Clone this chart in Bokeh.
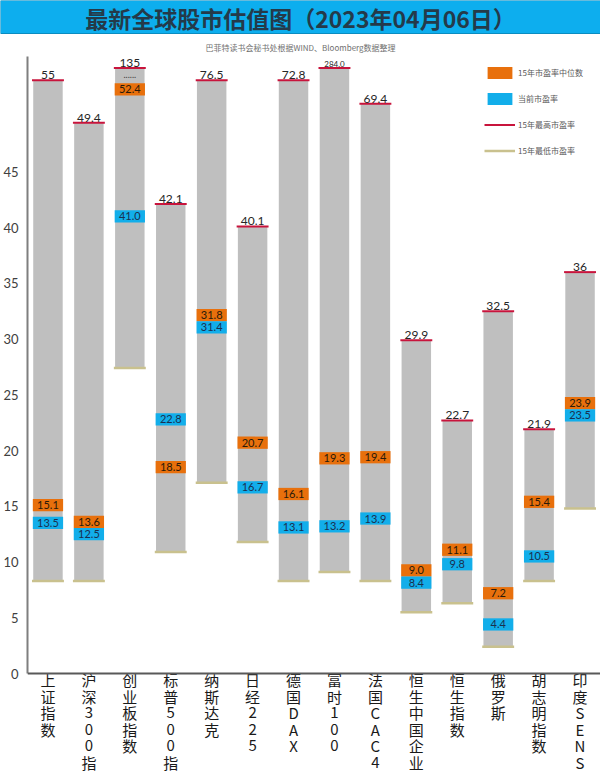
from bokeh.plotting import figure
from bokeh.models import (ColumnDataSource, Range1d, FactorRange, FixedTicker,
                          Legend, LegendItem, Span)
from bokeh.transform import dodge
from bokeh.layouts import column
from bokeh.embed import file_html
from bokeh.resources import INLINE
from bokeh.core.properties import value

# ---------------- data ----------------
title_text = "最新全球股市估值图（2023年04月06日）"
subtitle_text = "巴菲特读书会秘书处根据WIND、Bloomberg数据整理"

categories = ["上证指数", "沪深300指", "创业板指数", "标普500指", "纳斯达克", "日经225",
              "德国DAX", "富时100", "法国CAC4", "恒生中国企业", "恒生指数", "俄罗斯",
              "胡志明指数", "印度SENS"]
# 15-year highest PE (label text above each bar)
max_labels = ["55", "49.4", "135", "42.1", "76.5", "40.1", "72.8", "284.0", "69.4",
              "29.9", "22.7", "32.5", "21.9", "36"]
# drawn top of each bar on the axis (bars above ~50 are cut by the broken axis)
bar_top = [53.2, 49.4, 54.3, 42.1, 53.2, 40.1, 53.2, 54.3, 51.1, 29.9, 22.7, 32.5, 21.9, 36.0]
# 15-year lowest PE (bottom of each bar, read on the axis)
min_pe = [8.3, 8.3, 27.4, 10.9, 17.1, 11.8, 8.3, 9.1, 8.3, 5.5, 6.3, 2.4, 8.3, 14.8]
# 15-year median PE
median_pe = [15.1, 13.6, 52.4, 18.5, 31.8, 20.7, 16.1, 19.3, 19.4, 9.0, 11.1, 7.2, 15.4, 23.9]
# current PE
current_pe = [13.5, 12.5, 41.0, 22.8, 31.4, 16.7, 13.1, 13.2, 13.9, 8.4, 9.8, 4.4, 10.5, 23.5]
broken_bars = ["创业板指数"]
y_ticks = [0, 5, 10, 15, 20, 25, 30, 35, 40, 45]
legend_labels = ["15年市盈率中位数", "当前市盈率", "15年最高市盈率", "15年最低市盈率"]

# ---------------- styles ----------------
GRAY = "#BFBFBF"
ORANGE = "#E8700C"
BLUE = "#12AEEA"
RED = "#C8143C"
OLIVE = "#C9C18E"
AXIS = "#595959"
FONT = "Lato"
CJK = "Noto Sans CJK SC"

W = 600
BANNER_H = 56
FIG_H = 716          # main figure height
ZERO_PX = 617        # distance (px) from top of main frame to the zero line
Y_MAX = 55.34
BOX_H = 1.1          # height of a value box, in axis units
BAR_W = 0.72
px_per_unit = ZERO_PX / Y_MAX
Y_MIN = -(FIG_H - ZERO_PX) / px_per_unit

# label box positions: push overlapping median/current boxes apart
med_pos, cur_pos = [], []
for m, c in zip(median_pe, current_pe):
    if abs(m - c) < BOX_H:
        mid = (m + c) / 2.0
        if m >= c:
            med_pos.append(mid + BOX_H / 2); cur_pos.append(mid - BOX_H / 2)
        else:
            med_pos.append(mid - BOX_H / 2); cur_pos.append(mid + BOX_H / 2)
    else:
        med_pos.append(m); cur_pos.append(c)

src = ColumnDataSource(dict(
    cat=categories, top=bar_top, low=min_pe, maxlab=max_labels,
    med=med_pos, cur=cur_pos,
    medlab=[f"{v:.1f}" for v in median_pe],
    curlab=[f"{v:.1f}" for v in current_pe],
    maxsize=["8px" if len(s) > 4 else "12px" for s in max_labels],
))

# ---------------- banner ----------------
b = figure(width=W, height=BANNER_H, x_range=Range1d(0, W), y_range=Range1d(0, BANNER_H),
           output_backend="svg", toolbar_location=None, x_axis_type=None,
           y_axis_type=None, min_border=0, outline_line_color=None)
b.frame_align = False
b.grid.visible = False
b.quad(left=[0], right=[W], bottom=[BANNER_H - 33], top=[BANNER_H], fill_color="#0DAEEE",
       line_color="#0A8CC0", line_width=1)
b.text(x=[W / 2], y=[BANNER_H - 17], text=[title_text], text_align="center",
       text_baseline="middle", text_font=value(CJK), text_font_size="23px",
       text_font_style="bold", text_color="#243A4A")
b.text(x=[W / 2], y=[BANNER_H - 47], text=[subtitle_text], text_align="center",
       text_baseline="middle", text_font=value(CJK), text_font_size="8px",
       text_color="#707070")

# ---------------- main chart ----------------
p = figure(width=W, height=FIG_H, x_range=FactorRange(*categories),
           y_range=Range1d(Y_MIN, Y_MAX), output_backend="svg", toolbar_location=None,
           min_border_left=19, min_border_right=0, min_border_top=0,
           min_border_bottom=0, outline_line_color=None)
p.frame_align = False
p.grid.visible = False

p.vbar(x="cat", bottom="low", top="top", width=BAR_W, source=src,
       fill_color=GRAY, line_color=None)
r_min = p.segment(x0=dodge("cat", -0.39, range=p.x_range), y0="low",
                  x1=dodge("cat", 0.39, range=p.x_range), y1="low", source=src,
                  line_color=OLIVE, line_width=2.5)
r_max = p.segment(x0=dodge("cat", -0.39, range=p.x_range), y0="top",
                  x1=dodge("cat", 0.39, range=p.x_range), y1="top", source=src,
                  line_color=RED, line_width=2)
r_med = p.rect(x="cat", y="med", width=BAR_W + 0.02, height=BOX_H, source=src,
               fill_color=ORANGE, line_color=None)
r_cur = p.rect(x="cat", y="cur", width=BAR_W + 0.02, height=BOX_H, source=src,
               fill_color=BLUE, line_color=None)
p.text(x="cat", y="med", text="medlab", source=src, text_align="center",
       text_baseline="middle", text_font=value(FONT), text_font_size="11px",
       text_color="#2A1A0A")
p.text(x="cat", y="cur", text="curlab", source=src, text_align="center",
       text_baseline="middle", text_font=value(FONT), text_font_size="11px",
       text_color="#1A3050")
p.text(x="cat", y="top", text="maxlab", source=src, text_align="center",
       text_baseline="bottom", y_offset=-1, text_font=value(FONT),
       text_font_size="maxsize", text_color="#262626")

brk = ColumnDataSource(dict(cat=broken_bars,
                            y=[bar_top[categories.index(c)] - 0.6 for c in broken_bars],
                            t=["......" for _ in broken_bars]))
p.text(x="cat", y="y", text="t", source=brk, text_align="center",
       text_baseline="middle", text_font=value(FONT), text_font_size="9px",
       text_color="#404040")

# y axis (line limited to the value range), category baseline at zero
p.yaxis.ticker = FixedTicker(ticks=y_ticks)
p.yaxis.bounds = (0, Y_MAX)
p.yaxis.axis_line_color = "#7F7F7F"
p.yaxis.axis_line_width = 2
p.yaxis.major_tick_line_color = None
p.yaxis.minor_tick_line_color = None
p.yaxis.major_label_standoff = 3
p.yaxis.major_label_text_font = FONT
p.yaxis.major_label_text_font_size = "13px"
p.yaxis.major_label_text_color = "#404040"
p.xaxis.visible = False
p.add_layout(Span(location=0, dimension="width", line_color=AXIS, line_width=2))

# vertical category labels, one character per line
lx, ly, lt = [], [], []
for cat in categories:
    for k, ch in enumerate(cat):
        lx.append(cat)
        ly.append(-(6 + 16.5 * k) / px_per_unit)
        lt.append(ch)
cat_src = ColumnDataSource(dict(x=lx, y=ly, t=lt))
p.text(x="x", y="y", text="t", source=cat_src, text_align="center",
       text_baseline="middle", text_font=value(CJK), text_font_size="15px",
       text_color="#1A1A1A")

# legend
legend = Legend(items=[LegendItem(label=legend_labels[0], renderers=[r_med]),
                       LegendItem(label=legend_labels[1], renderers=[r_cur]),
                       LegendItem(label=legend_labels[2], renderers=[r_max]),
                       LegendItem(label=legend_labels[3], renderers=[r_min])],
                location=(457, 614), orientation="vertical",
                glyph_width=31, glyph_height=15, label_height=15, spacing=11,
                padding=0, margin=0, label_standoff=3,
                label_text_font=CJK, label_text_font_size="8px",
                label_text_color="#595959", border_line_color=None,
                background_fill_alpha=0)
p.add_layout(legend)

layout = column(b, p, spacing=0)
open("out.html", "w").write(file_html(layout, INLINE))
